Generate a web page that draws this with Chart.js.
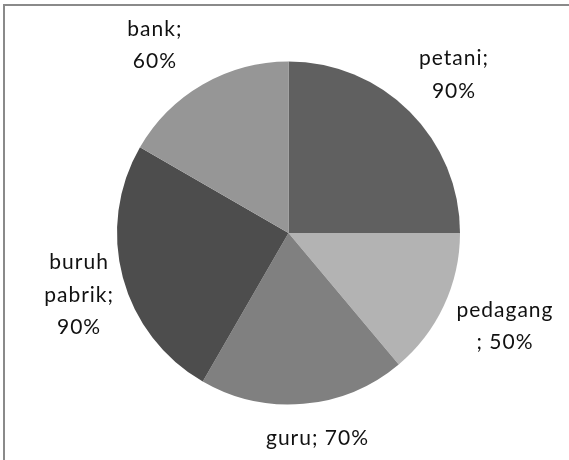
<!DOCTYPE html>
<html>
<head>
<meta charset="utf-8">
<script src="https://cdn.jsdelivr.net/npm/chart.js@4/dist/chart.umd.min.js"></script>
<style>
html,body{margin:0;padding:0;background:#fff;}
#wrap{position:relative;width:569px;height:460px;}
</style>
</head>
<body>
<div id="wrap"><canvas id="c" width="569" height="460"></canvas></div>
<script>
// Data
const categories = ["petani", "pedagang", "guru", "buruh pabrik", "bank"];
const values = [90, 50, 70, 90, 60];
const labelLines = [["petani;", "90%"], ["pedagang", "; 50%"], ["guru; 70%"], ["buruh", "pabrik;", "90%"], ["bank;", "60%"]];
const sliceColors = ["#606060", "#b3b3b3", "#808080", "#4d4d4d", "#969696"];

// label anchor, as fractions of the pie radius from the pie centre
const labelAnchors = [[0.965, -0.884], [1.262, 0.584], [0.169, 1.238], [-1.221, 0.401], [-0.779, -1.055]];

const framePlugin = {
  id: "frame",
  beforeDraw(chart) {
    const ctx = chart.ctx;
    ctx.save();
    ctx.fillStyle = "#ffffff";
    ctx.fillRect(0, 0, chart.width, chart.height);
    ctx.strokeStyle = "#8a8a8a";
    ctx.lineWidth = 2;
    ctx.beginPath();
    ctx.moveTo(4, chart.height);
    ctx.lineTo(4, 5);
    ctx.lineTo(chart.width, 5);
    ctx.stroke();
    ctx.restore();
  }
};

const labelPlugin = {
  id: "outsideLabels",
  afterDatasetsDraw(chart) {
    const ctx = chart.ctx;
    const meta = chart.getDatasetMeta(0);
    const lh = 32.5;
    ctx.save();
    ctx.font = "21px Lato, 'Open Sans', sans-serif";
    if ('letterSpacing' in ctx) ctx.letterSpacing = "1px";
    ctx.fillStyle = "#111111";
    ctx.textAlign = "center";
    ctx.textBaseline = "alphabetic";
    meta.data.forEach((arc, i) => {
      const r = arc.outerRadius;
      const cx = arc.x + labelAnchors[i][0] * r;
      const cy = arc.y + labelAnchors[i][1] * r;
      const lines = labelLines[i];
      const y0 = cy - (lines.length - 1) * lh / 2;
      lines.forEach((t, k) => ctx.fillText(t, cx, y0 + k * lh));
    });
    ctx.restore();
  }
};

new Chart(document.getElementById("c"), {
  type: "pie",
  data: {
    labels: categories,
    datasets: [{
      data: values,
      backgroundColor: sliceColors,
      borderWidth: 0
    }]
  },
  options: {
    responsive: false,
    animation: false,
    layout: { padding: { left: 117, right: 109, top: 61, bottom: 55 } },
    plugins: {
      legend: { display: false },
      tooltip: { enabled: false }
    }
  },
  plugins: [framePlugin, labelPlugin]
});
</script>
</body>
</html>
